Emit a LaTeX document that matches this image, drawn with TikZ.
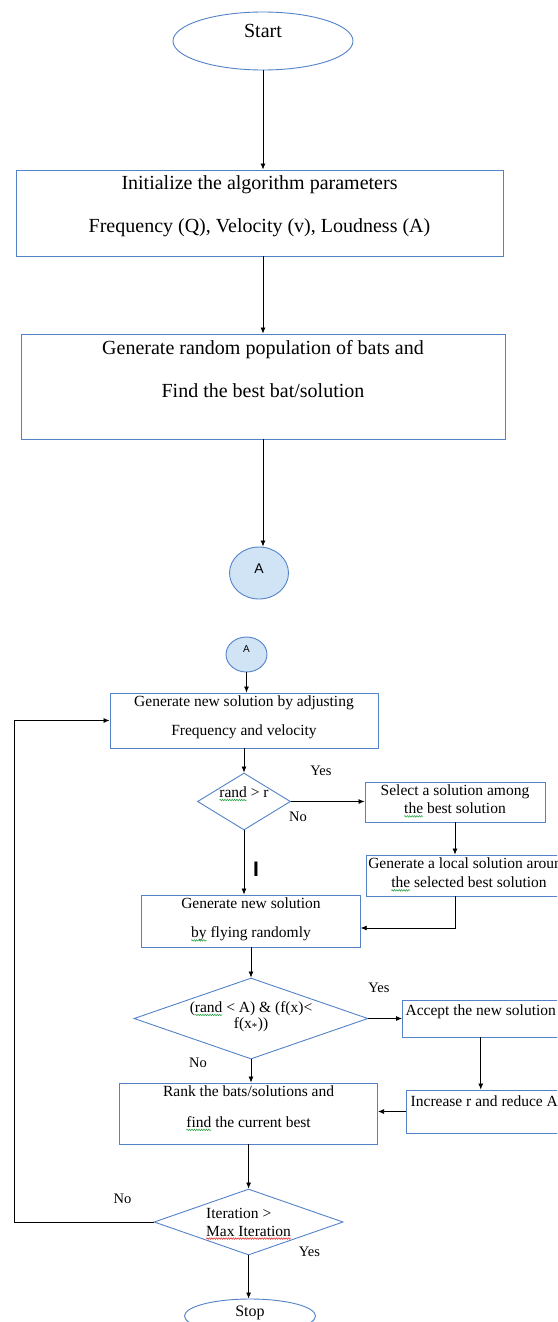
\documentclass[tikz,border=0pt]{standalone}
\usepackage{fontspec}
\setmainfont{Liberation Serif}
\newfontfamily\labelsans{Liberation Sans}
\usetikzlibrary{shapes.geometric,arrows.meta,decorations.pathmorphing}
\definecolor{boxblue}{RGB}{84,130,200}
\definecolor{ballfill}{RGB}{208,228,246}
\definecolor{wavegreen}{RGB}{30,160,60}
\definecolor{wavered}{RGB}{225,35,35}
\newcommand{\bigtext}{\fontsize{20}{24}\selectfont}
\newcommand{\smalltext}{\fontsize{15.5}{18}\selectfont}
\newcommand{\padbelow}[1]{\rule[-#1]{0pt}{#1}}
\newcommand{\squig}[2]{\tikz[baseline=(w.base)]{\node[rectangle,draw=none,fill=none,inner sep=0pt,outer sep=0pt,minimum width=0pt,minimum height=0pt,text height=,text depth=] (w) {#2}; \draw[overlay,#1,line width=0.5pt,decorate,decoration={snake,amplitude=0.8pt,segment length=2.4pt}] ([yshift=-2.5pt]w.base west) -- ([yshift=-2.5pt]w.base east);}}
\tikzstyle{wordbox}=[rectangle,draw=boxblue,line width=0.9pt,inner xsep=2pt,inner ysep=1pt,align=center,font=\smalltext]
\tikzstyle{decision}=[diamond,draw=boxblue,line width=0.9pt,inner sep=0pt,align=center,font=\smalltext]
\tikzstyle{terminal}=[ellipse,draw=boxblue,line width=0.9pt,inner sep=0pt]
\tikzstyle{flow}=[-{Latex[length=6pt,width=5pt]},line width=0.8pt]

\begin{document}
\begin{tikzpicture}[x=1pt,y=-1pt]
		\tikzstyle{ball}=[ellipse,draw=boxblue,fill=ballfill,line width=0.9pt,inner sep=0pt]
		\tikzstyle{answer}=[inner sep=0pt,font=\fontsize{14.5}{16}\selectfont]
		\useasboundingbox (0,0) rectangle (557,1322);
		\fill[white] (0,0) rectangle (557,1322);
		\clip (0,0) rectangle (557,1322);
		% upper part
		\node[terminal,minimum width=180pt,minimum height=58pt,font=\bigtext,text height=0pt,text depth=6pt] at (263, 41) (start) {Start};
		\node[wordbox,font=\bigtext,minimum width=487pt,minimum height=86pt] at (259.5, 213) (init) {Initialize the algorithm parameters\\[19pt]Frequency (Q), Velocity (v), Loudness (A)\padbelow{17pt}};
		\node[wordbox,font=\bigtext,minimum width=484pt,minimum height=105pt] at (263, 386.5) (popul) {Generate random population of bats and\\[19pt]Find the best bat/solution\padbelow{36pt}};
		\node[ball,minimum width=59pt,minimum height=52pt,font=\labelsans\fontsize{14}{14}\selectfont,text height=0pt,text depth=0pt] at (259, 573) (ballA) {A};
		% lower part
		\node[ball,minimum width=41pt,minimum height=35pt,font=\labelsans\fontsize{10}{10}\selectfont,text height=0pt,text depth=4pt] at (246.5, 654.5) (ballB) {A};
		\node[wordbox,minimum width=268pt,minimum height=55pt] at (244, 720.5) (adjust) {Generate new solution by adjusting\\[11pt]Frequency and velocity\padbelow{10pt}};
		\node[decision,aspect=1.6,minimum width=93pt,minimum height=57pt,text height=0pt,text depth=8pt] at (244, 801.5) (randr) {\squig{wavegreen}{rand} > r};
		\node[wordbox,minimum width=180pt,minimum height=40pt] at (455, 802) (select) {Select a solution among\\\squig{wavegreen}{the} best solution\padbelow{5pt}};
		\node[wordbox,minimum width=206pt,minimum height=41pt] at (469, 875.5) (local) {Generate a local solution around\\[1pt]\squig{wavegreen}{the} selected best solution\padbelow{5pt}};
		\node[wordbox,minimum width=218.5pt,minimum height=52pt] at (251, 921) (flyrand) {Generate new solution\\[11pt]\squig{wavegreen}{by} flying randomly\padbelow{6pt}};
		\node[font=\labelsans\bfseries\fontsize{21}{21}\selectfont,inner sep=0pt] at (256, 869) (caret) {I};
		\node[decision,aspect=3,minimum width=234pt,minimum height=81pt] at (251, 1018.5) (loudtest) {(\squig{wavegreen}{rand} < A) \& (f(x)<\\[-2pt]f(x\textsubscript{*}))\padbelow{7pt}};
		\node[wordbox,minimum width=156.5pt,minimum height=37pt] at (480.75, 1018.5) (acceptsol) {Accept the new solution\padbelow{17pt}};
		\node[wordbox,minimum width=155.3pt,minimum height=43pt] at (484.3, 1111.5) (increase) {Increase r and reduce A\padbelow{21pt}};
		\node[wordbox,minimum width=258pt,minimum height=61pt] at (248.6, 1113.5) (rank) {Rank the bats/solutions and\\[13pt]\squig{wavegreen}{find} the current best\padbelow{14pt}};
		\node[decision,aspect=2.9,align=left,minimum width=189pt,minimum height=66pt] at (248.6, 1222) (maxit) {Iteration >\\\squig{wavered}{Max Iteration}};
		\node[terminal,minimum width=131pt,minimum height=34pt,font=\fontsize{16}{18}\selectfont,text height=0pt,text depth=0pt] at (250, 1316) (stop) {Stop};
		\coordinate (loopside) at (14, 0);
		% answers
		\node[answer] at (321, 771) (yesA) {Yes};
		\node[answer] at (298, 817) (noA) {No};
		\node[answer] at (379, 988) (yesB) {Yes};
		\node[answer] at (198, 1063) (noB) {No};
		\node[answer] at (122.5, 1199) (noC) {No};
		\node[answer] at (309.5, 1252) (yesC) {Yes};
		% connectors
		\draw[flow] (start) edge (start |- init.north);
		\draw[flow] (init.south -| popul) -- (popul.north);
		\draw[flow] (popul) edge (popul |- ballA.north);
		\draw[flow] (ballB) edge (ballB |- adjust.north);
		\draw[flow] (adjust) edge (randr);
		\draw[flow] (randr.east) -- (randr.east -| select.west);
		\draw[flow] (select) edge (select |- local.north);
		\draw[flow] (select |- local.south) |- ([yshift=-7pt]flyrand.east);
		\draw[flow] (randr) edge (randr |- flyrand.north);
		\draw[flow] (flyrand) edge (loudtest);
		\draw[flow] (loudtest) edge (acceptsol);
		\draw[flow] (acceptsol) edge (acceptsol |- increase.north);
		\draw[flow] (increase) edge (increase -| rank.east);
		\draw[flow] (loudtest) edge (loudtest |- rank.north);
		\draw[flow] (rank) edge (maxit);
		\draw[flow] (maxit.west) -- (maxit.west -| loopside) |- (adjust.west);
		\draw[flow] (maxit) edge (maxit |- stop.north);
\end{tikzpicture}
\end{document}
